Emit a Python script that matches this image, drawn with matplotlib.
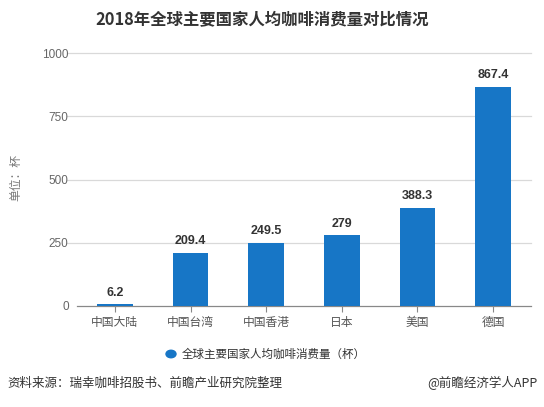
import matplotlib
matplotlib.use('Agg')
from matplotlib import pyplot as plt
import numpy as np

# chart data
regions = ['中国大陆', '中国台湾', '中国香港', '日本', '美国', '德国']
cups = [6.2, 209.4, 249.5, 279, 388.3, 867.4]
value_labels = ['6.2', '209.4', '249.5', '279', '388.3', '867.4']
y_ticks = [0, 250, 500, 750, 1000]

title = '2018年全球主要国家人均咖啡消费量对比情况'
legend_text = '全球主要国家人均咖啡消费量（杯）'
y_label = '单位：杯'
source_text = '资料来源：瑞幸咖啡招股书、前瞻产业研究院整理'
brand_text = '@前瞻经济学人APP'

plt.rcParams['font.family'] = ['Noto Sans CJK SC', 'DejaVu Sans']
num_font = ['Liberation Sans', 'Noto Sans CJK SC']

bar_color = '#1776c6'

fig = plt.figure(figsize=(5.44, 4.07), dpi=100)
# axes: x from 77 to 531 px, y from 306 (0) to 53 (1000)
W, H = 544, 407
ax = fig.add_axes([77 / W, 1 - 306 / H, (531 - 77) / W, (306 - 53) / H])

x = np.arange(len(regions))
ax.bar(x, cups, width=0.47, color=bar_color, zorder=3)

for xi, v, s in zip(x, cups, value_labels):
    ax.annotate(s, (xi, v), xytext=(0, 4), textcoords='offset points',
                ha='center', va='bottom', fontsize=9, fontweight='bold',
                color='#333333', family=num_font)

ax.set_xlim(-0.5, len(regions) - 0.5)
ax.set_ylim(0, 1000)
ax.set_yticks(y_ticks)
ax.set_yticklabels([str(t) for t in y_ticks], family=num_font, fontsize=8.5, color='#666666')
ax.set_xticks(x)
ax.set_xticklabels(regions, fontsize=8.5, color='#555555')
ax.tick_params(axis='y', length=0, pad=6)
ax.tick_params(axis='x', length=4, color='#888888', width=0.8, pad=3)

# gridlines reaching a bit past the left edge
for t in y_ticks[1:]:
    ax.plot([-0.022, 1.0], [t, t], transform=ax.get_yaxis_transform(),
            color='#d9d9d9', lw=0.9, clip_on=False, zorder=1)

for side in ['top', 'right', 'left']:
    ax.spines[side].set_visible(False)
ax.spines['bottom'].set_color('#888888')
ax.spines['bottom'].set_linewidth(0.9)

fig.text(16 / W, 1 - 178 / H, y_label, rotation=90, ha='center', va='center',
         fontsize=8.5, color='#777777')

fig.text(262 / W, 1 - 20 / H, title, ha='center', va='center',
         fontsize=11.8, fontweight='bold', color='#333333')

# legend
fig.patches.append(matplotlib.patches.Circle((171 / W, 1 - 354 / H), 5 / W,
                   transform=fig.transFigure, color=bar_color))
fig.text(182 / W, 1 - 354 / H, legend_text, ha='left', va='center',
         fontsize=8.3, color='#333333')

fig.text(7 / W, 1 - 383 / H, source_text, ha='left', va='center',
         fontsize=9, color='#333333')
fig.text(538 / W, 1 - 383 / H, brand_text, ha='right', va='center',
         fontsize=9, color='#333333')

fig.savefig('out.png', dpi=100)
